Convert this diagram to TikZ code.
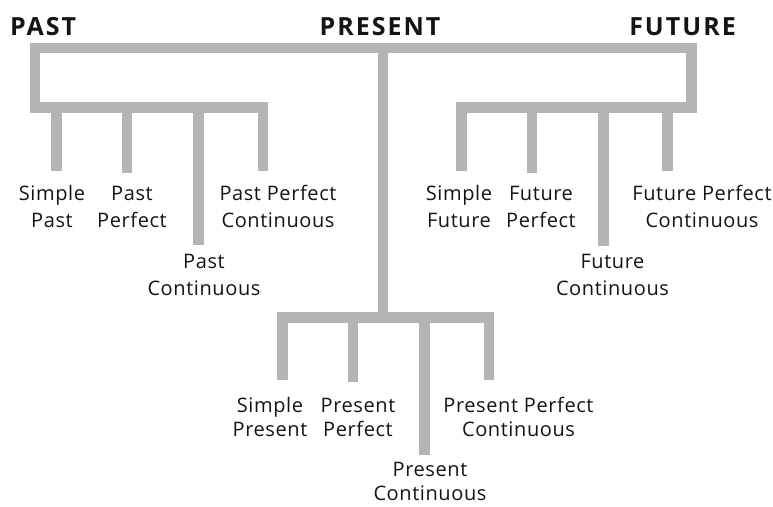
\documentclass[tikz,border=0pt]{standalone}
\usepackage{fontspec}
\setmainfont{Open Sans}
\newfontfamily\headfont{Open Sans}[LetterSpace=8]
\newfontfamily\labfont{Open Sans}[LetterSpace=3]
\definecolor{barc}{RGB}{180,180,180}
\definecolor{txt}{RGB}{20,20,20}
\begin{document}
\begin{tikzpicture}[x=1pt,y=-1pt,
  bar/.style={draw=barc, line width=10.5pt, line join=miter},
  lab/.style={font=\labfont\fontsize{20}{27}\selectfont, text=txt, align=center, anchor=north, inner sep=0pt},
  labr/.style={lab, font=\labfont\fontsize{20}{24.5}\selectfont},
  head/.style={font=\headfont\bfseries\fontsize{25}{30}\selectfont, text=txt, inner sep=0pt, anchor=base}]
\useasboundingbox (0,0) rectangle (773,506);
% headers
\node[head, anchor=base west] (past) at (10,35) {PAST};
\node[head] (present) at (380,35) {PRESENT};
\node[head] (future) at (682.5,35) {FUTURE};
% junction coordinates
\coordinate (tl) at (35,48);
\coordinate (tm) at (383,48);
\coordinate (tr) at (691.5,48);
\coordinate (pa) at (35,107.5);
\coordinate (pb) at (263,107.5);
\coordinate (fa) at (691.5,107.5);
\coordinate (fb) at (461.5,107.5);
\coordinate (ra) at (282.5,317.5);
\coordinate (rm) at (383,317.5);
\coordinate (rb) at (489,317.5);
% stem ends
\coordinate (p1t) at (56.5,107.5);  \coordinate (p1b) at (56.5,171);
\coordinate (p2t) at (127,107.5);   \coordinate (p2b) at (127,173);
\coordinate (p3t) at (198.5,107.5); \coordinate (p3b) at (198.5,245);
\coordinate (p4b) at (263,171);
\coordinate (f1b) at (461.5,171);
\coordinate (f2t) at (532,107.5);   \coordinate (f2b) at (532,173);
\coordinate (f3t) at (603.5,107.5); \coordinate (f3b) at (603.5,246);
\coordinate (f4t) at (667.5,107.5); \coordinate (f4b) at (667.5,171);
\coordinate (r1b) at (282.5,380);
\coordinate (r2t) at (353,317.5);   \coordinate (r2b) at (353,382);
\coordinate (r3t) at (424.5,317.5); \coordinate (r3b) at (424.5,455);
\coordinate (r4b) at (489,380);
% bars
\draw[bar] (p4b) -- (pb) -- (pa) -- (tl) -- (tr) -- (fa) -- (fb) -- (f1b);
\draw[bar] (p1t) -- (p1b);
\draw[bar] (p2t) -- (p2b);
\draw[bar] (p3t) -- (p3b);
\draw[bar] (f2t) -- (f2b);
\draw[bar] (f3t) -- (f3b);
\draw[bar] (f4t) -- (f4b);
\draw[bar] (tm) -- (rm);
\draw[bar] (r1b) -- (ra) -- (rb) -- (r4b);
\draw[bar] (r2t) -- (r2b);
\draw[bar] (r3t) -- (r3b);
% labels
\node[lab] (sp) at (52,180) {\rule{0pt}{20pt}Simple\\Past};
\node[lab] (pp) at (132,180) {\rule{0pt}{20pt}Past\\Perfect};
\node[lab] (pc) at (204,248) {\rule{0pt}{20pt}Past\\Continuous};
\node[lab] (ppc) at (278,180) {\rule{0pt}{20pt}Past Perfect\\Continuous};
\node[lab] (sf) at (459,180) {\rule{0pt}{20pt}Simple\\Future};
\node[lab] (fp) at (541,180) {\rule{0pt}{20pt}Future\\Perfect};
\node[lab] (fc) at (612.5,248) {\rule{0pt}{20pt}Future\\Continuous};
\node[lab] (fpc) at (702,180) {\rule{0pt}{20pt}Future Perfect\\Continuous};
\node[labr] (srp) at (270,392) {\rule{0pt}{20pt}Simple\\Present};
\node[labr] (rp) at (358,392) {\rule{0pt}{20pt}Present\\Perfect};
\node[labr] (rc) at (430,456) {\rule{0pt}{20pt}Present\\Continuous};
\node[labr] (rpc) at (518.5,392) {\rule{0pt}{20pt}Present Perfect\\Continuous};
\end{tikzpicture}
\end{document}
